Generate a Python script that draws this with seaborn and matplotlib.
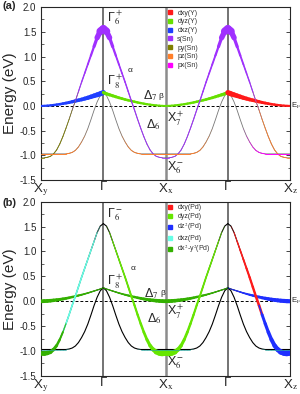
import numpy as np
import pandas as pd
import matplotlib
matplotlib.use("Agg")
import matplotlib.pyplot as plt
import seaborn as sns
from matplotlib.collections import LineCollection
from matplotlib.lines import Line2D
from matplotlib.ticker import MultipleLocator

# fraction of the way from Gamma (0) to the X point (1); same for all four segments
s_frac = [0, 0.05, 0.1, 0.15, 0.2, 0.25, 0.3, 0.35, 0.4, 0.45, 0.5,
          0.55, 0.6, 0.65, 0.7, 0.75, 0.8, 0.85, 0.9, 0.95, 1.0]

# band energies (eV) read along Gamma -> X
alpha_E = [1.56, 1.51, 1.38, 1.20, 1.02, 0.84, 0.66, 0.48, 0.29, 0.10, -0.08,
           -0.27, -0.45, -0.62, -0.77, -0.89, -0.97, -1.02, -1.04, -1.05, -1.05]
d7_E = [0.27, 0.245, 0.225, 0.205, 0.185, 0.165, 0.148, 0.13, 0.115, 0.10, 0.085,
        0.07, 0.058, 0.046, 0.035, 0.026, 0.018, 0.011, 0.006, 0.002, 0.0]
d6_E = [0.27, 0.21, 0.08, -0.09, -0.28, -0.46, -0.61, -0.73, -0.83, -0.90, -0.94,
        -0.96, -0.97, -0.97, -0.97, -0.97, -0.97, -0.97, -0.97, -0.97, -0.97]

# segments: (k of Gamma, direction) -> X_y-G, G-X_x, X_x-G, G-X_z
segments = [(1, -1), (1, 1), (3, -1), (3, 1)]
kpt_pos = [0, 1, 2, 3, 4]
kpt_labels = ["X$_{\\rm y}$", "Γ", "X$_{\\rm x}$", "Γ", "X$_{\\rm z}$"]

# orbital weights (a): Y d / Sn s,p
a_d7_Y = [0.95, 0.9, 0.86, 0.82, 0.78, 0.74, 0.7, 0.66, 0.63, 0.6, 0.57,
          0.54, 0.51, 0.48, 0.46, 0.44, 0.42, 0.40, 0.39, 0.38, 0.38]
a_d7_dyz = [0.6, 0.58, 0.56, 0.54, 0.52, 0.5, 0.48, 0.47, 0.46, 0.45, 0.44,
            0.43, 0.42, 0.41, 0.40, 0.39, 0.38, 0.37, 0.36, 0.35, 0.35]
a_alpha_s = [1.5, 1.25, 0.7, 0.45, 0.36, 0.31, 0.28, 0.26, 0.24, 0.22, 0.2,
             0.19, 0.18, 0.17, 0.16, 0.15, 0.14, 0.14, 0.14, 0.14, 0.14]
a_alpha_s_out = [1.5, 1.25, 0.7, 0.45, 0.36, 0.31, 0.27, 0.23, 0.18, 0.12, 0.06,
                 0, 0, 0, 0, 0, 0, 0, 0, 0, 0]
a_alpha_p_out = [0, 0, 0, 0, 0, 0, 0, 0, 0, 0.05, 0.09,
                 0.12, 0.14, 0.15, 0.15, 0.15, 0.15, 0.15, 0.15, 0.15, 0.15]
a_d6_p = [0, 0, 0, 0, 0, 0, 0.04, 0.08, 0.11, 0.13, 0.15,
          0.16, 0.17, 0.17, 0.17, 0.17, 0.17, 0.17, 0.17, 0.17, 0.17]

# orbital weights (b): Pd d
b_d7_x2y2 = [0.15, 0.17, 0.2, 0.22, 0.25, 0.28, 0.31, 0.34, 0.37, 0.4, 0.43,
             0.46, 0.49, 0.52, 0.55, 0.58, 0.61, 0.64, 0.66, 0.68, 0.68]
b_d7_z2 = [0.1, 0.14, 0.18, 0.22, 0.26, 0.3, 0.34, 0.38, 0.42, 0.46, 0.5,
           0.54, 0.58, 0.62, 0.65, 0.68, 0.7, 0.72, 0.74, 0.75, 0.75]
b_alpha_dyz = [0, 0, 0.08, 0.18, 0.24, 0.28, 0.3, 0.32, 0.34, 0.36, 0.38,
               0.4, 0.43, 0.47, 0.52, 0.6, 0.7, 0.85, 1.0, 1.05, 1.05]
b_alpha_dxz = [0, 0, 0.12, 0.2, 0.24, 0.27, 0.28, 0.3, 0.3, 0.3, 0.3,
               0.3, 0.3, 0.28, 0.25, 0, 0, 0, 0, 0, 0]
b_alpha_x2y2 = [0, 0, 0, 0, 0, 0, 0, 0, 0, 0, 0,
                0, 0, 0.3, 0.4, 0.5, 0.6, 0.7, 0.8, 0.85, 0.85]
b_alpha_dxy = [0, 0, 0.12, 0.22, 0.28, 0.32, 0.36, 0.4, 0.42, 0.45, 0.47,
               0.5, 0, 0, 0, 0, 0, 0, 0, 0, 0]
b_alpha_z2 = [0, 0, 0, 0, 0, 0, 0, 0, 0, 0, 0,
              0.5, 0.55, 0.6, 0.68, 0.76, 0.85, 0.95, 1.0, 1.05, 1.05]
b_d6_dxz = [0, 0, 0, 0, 0, 0, 0, 0, 0, 0, 0,
            0, 0.12, 0.12, 0.12, 0.12, 0.12, 0.12, 0.12, 0.12, 0.12]

leg_a = ["dxy(Y)", "dyz(Y)", "dxz(Y)", "s(Sn)", "py(Sn)", "pz(Sn)", "px(Sn)"]
col_a = ["#ff1a1a", "#66e000", "#1f3fff", "#a030ff", "#808000", "#ff7f2a", "#ff00ff"]
leg_b = ["dxy(Pd)", "dyz(Pd)", "dz$^2$(Pd)", "dxz(Pd)", "dx$^2$-y$^2$(Pd)"]
col_b = ["#ff1a1a", "#66e600", "#1f2fff", "#66ffe6", "#33b000"]

sns.set_style("ticks")
plt.rcParams["font.family"] = ["Liberation Sans", "DejaVu Sans"]
plt.rcParams["mathtext.fontset"] = "stix"
plt.rcParams["axes.unicode_minus"] = False

fig = plt.figure(figsize=(3.0, 3.94), dpi=100)
ax_a = fig.add_axes([0.137, 0.543, 0.83, 0.439])
ax_b = fig.add_axes([0.137, 0.046, 0.83, 0.442])

bands = {"alpha": alpha_E, "d7": d7_E, "d6": d6_E}


def seg_k(i):
    g, d = segments[i]
    return [g + d * v for v in s_frac]


def fat(ax, band, i, w, color, maxlw=4.0):
    k = seg_k(i)
    E = bands[band]
    pts = np.column_stack([k, E])
    segs = np.stack([pts[:-1], pts[1:]], axis=1)
    lw = [(w[j] + w[j + 1]) / 2 * maxlw for j in range(len(w) - 1)]
    keep = [j for j in range(len(lw)) if lw[j] > 0]
    lc = LineCollection(segs[keep], linewidths=[lw[j] for j in keep],
                        colors=color, capstyle="round", joinstyle="round", zorder=3)
    ax.add_collection(lc)


rows = []
for name, E in bands.items():
    for i in range(4):
        for kk, ee in zip(seg_k(i), E):
            rows.append({"k": kk, "E": ee, "line": f"{name}{i}"})
df = pd.DataFrame(rows)

for ax, base_col, base_lw in [(ax_a, "#777777", 0.6), (ax_b, "black", 0.8)]:
    sns.lineplot(data=df, x="k", y="E", units="line", estimator=None, sort=False,
                 color=base_col, lw=base_lw, ax=ax, zorder=2)

# panel (a) fat bands
fat(ax_a, "d7", 0, a_d7_Y, col_a[2])
fat(ax_a, "d7", 1, a_d7_dyz, col_a[1])
fat(ax_a, "d7", 2, a_d7_dyz, col_a[1])
fat(ax_a, "d7", 3, a_d7_Y, col_a[0])
fat(ax_a, "alpha", 1, a_alpha_s, col_a[3])
fat(ax_a, "alpha", 2, a_alpha_s, col_a[3])
fat(ax_a, "alpha", 0, a_alpha_s_out, col_a[3])
fat(ax_a, "alpha", 3, a_alpha_s_out, col_a[3])
fat(ax_a, "alpha", 0, a_alpha_p_out, col_a[4])
fat(ax_a, "alpha", 3, a_alpha_p_out, col_a[5])
fat(ax_a, "d6", 0, a_d6_p, col_a[5])
fat(ax_a, "d6", 1, a_d6_p, col_a[5])
fat(ax_a, "d6", 2, a_d6_p, col_a[5])
fat(ax_a, "d6", 3, a_d6_p, col_a[6])

# panel (b) fat bands
fat(ax_b, "d7", 0, b_d7_x2y2, col_b[4])
fat(ax_b, "d7", 1, b_d7_x2y2, col_b[4])
fat(ax_b, "d7", 2, b_d7_x2y2, col_b[4])
fat(ax_b, "d7", 3, b_d7_z2, col_b[2])
fat(ax_b, "alpha", 0, b_alpha_dxz, col_b[3])
fat(ax_b, "alpha", 0, b_alpha_x2y2, col_b[4])
fat(ax_b, "alpha", 1, b_alpha_dyz, col_b[1])
fat(ax_b, "alpha", 2, b_alpha_dyz, col_b[1])
fat(ax_b, "alpha", 3, b_alpha_dxy, col_b[0])
fat(ax_b, "alpha", 3, b_alpha_z2, col_b[2])
for i in range(4):
    fat(ax_b, "d6", i, b_d6_dxz, "#2aa6a0")

for ax, labels, cols in [(ax_a, leg_a, col_a), (ax_b, leg_b, col_b)]:
    ax.set_xlim(0, 4)
    ax.set_ylim(-1.5, 2.0)
    ax.axhline(0, color="black", ls=(0, (3, 2)), lw=0.7, zorder=1)
    for kx in [1, 3]:
        ax.axvline(kx, color="#4d4d4d", lw=1.1, zorder=1)
    ax.axvline(2, color="#8c8c8c", lw=1.8, zorder=1)
    ax.set_xticks(kpt_pos)
    ax.set_xticklabels(kpt_labels, fontsize=9.5)
    ax.tick_params(axis="x", length=0, pad=1)
    ax.yaxis.set_minor_locator(MultipleLocator(0.25))
    ax.set_yticks([2.0, 1.5, 1.0, 0.5, 0.0, -0.5, -1.0, -1.5])
    ax.set_yticklabels(["2.0", "1.5", "1.0", "0.5", "0.0", "-0.5", "-1.0", "-1.5"], fontsize=7)
    ax.tick_params(axis="y", which="both", direction="in", right=True, labelsize=7)
    ax.tick_params(axis="y", which="major", length=3, width=0.6)
    ax.tick_params(axis="y", which="minor", length=1.8, width=0.5)
    ax.set_xlabel("")
    ax.set_ylabel("Energy (eV)", fontsize=11, labelpad=2)
    for sp in ax.spines.values():
        sp.set_linewidth(0.8)
    ax.text(4.015, 0, "E$_{\\rm F}$", fontsize=5.5, va="center", ha="left")
    handles = [Line2D([], [], marker="s", ls="", color=c, markersize=2.3) for c in cols]
    leg = ax.legend(handles, labels, loc="upper left", bbox_to_anchor=(0.505, 0.985),
                    frameon=False, fontsize=5, handlelength=0.8, handletextpad=0.7,
                    labelspacing=0.25, borderaxespad=0, borderpad=0)
    for t in leg.get_texts():
        t.set_color("#333333")

fig.text(0.007, 0.997, "(a)", fontsize=8, fontweight="bold", ha="left", va="top")
fig.text(0.007, 0.497, "(b)", fontsize=8, fontweight="bold", ha="left", va="top")

ann_kw = dict(fontsize=9, ha="left", va="center")
ax_a.text(1.06, 1.78, "Γ$_6^+$", **ann_kw)
ax_a.text(1.06, 0.48, "Γ$_8^+$", **ann_kw)
ax_a.text(1.39, 0.71, "α", fontsize=6, ha="left", va="center")
ax_a.text(1.64, 0.20, "Δ$_7$", **ann_kw)
ax_a.text(1.89, 0.20, "β", fontsize=6, ha="left", va="center")
ax_a.text(1.68, -0.38, "Δ$_6$", **ann_kw)
ax_a.text(2.03, -0.26, "X$_7^+$", **ann_kw)
ax_a.text(2.03, -1.25, "X$_6^-$", **ann_kw)

ax_b.text(1.06, 1.74, "Γ$_6^-$", **ann_kw)
ax_b.text(1.06, 0.39, "Γ$_8^+$", **ann_kw)
ax_b.text(1.44, 0.65, "α", fontsize=6, ha="left", va="center")
ax_b.text(1.66, 0.15, "Δ$_7$", **ann_kw)
ax_b.text(1.92, 0.15, "β", fontsize=6, ha="left", va="center")
ax_b.text(1.70, -0.35, "Δ$_6$", **ann_kw)
ax_b.text(2.03, -0.21, "X$_7^+$", **ann_kw)
ax_b.text(2.03, -1.24, "X$_6^-$", **ann_kw)

fig.savefig("out.png", dpi=100)
